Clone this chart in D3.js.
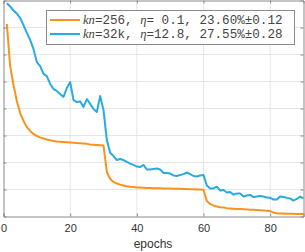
<!DOCTYPE html>
<html>
<body style="margin:0;background:#fff">
<script src="https://d3js.org/d3.v7.min.js"></script>
<style>
  body { margin: 0; }
  .grid line { stroke: #e6e6e6; }
  .axis text { font-family: "Liberation Sans", Arial, sans-serif; font-size: 11px; fill: #333; }
</style>
<script>
// epochs 1..90
const epochs = d3.range(1, 91);

// kn=256, eta=0.1
const smallBatch = [
  91.3, 75.7, 68.7, 62.8, 58.3, 55.4, 53.1, 51.7, 50.6, 49.8,
  49.3, 48.9, 48.5, 48.2, 48.0, 47.8, 47.7, 47.6, 47.5, 47.4,
  47.3, 47.2, 47.1, 47.0, 46.9, 46.7, 46.6, 46.5, 46.4, 46.3,
  36.5, 33.9, 32.8, 32.2, 31.8, 31.5, 31.2, 31.0, 30.9, 30.7,
  30.7, 30.67, 30.6, 30.6, 30.5, 30.5, 30.5, 30.4, 30.4, 30.4,
  30.3, 30.3, 30.3, 30.2, 30.2, 30.1, 30.1, 30.0, 30.0, 29.9,
  25.7, 24.6, 24.1, 23.7, 23.4, 23.3, 23.1, 23.0, 22.9, 22.8,
  22.8, 22.7, 22.6, 22.5, 22.5, 22.4, 22.3, 22.2, 22.1, 22.0,
  21.5, 21.2, 21.1, 21.1, 21.0, 21.0, 21.0, 20.9, 20.9, 20.9
];

// kn=32k, eta=12.8
const largeBatch = [
  99.0, 97.8, 96.3, 95.2, 93.5, 90.9, 88.0, 85.4, 82.0, 77.2,
  75.7, 72.8, 72.0, 69.1, 67.2, 66.5, 65.4, 64.3, 67.6, 69.8,
  63.1, 62.4, 62.6, 60.6, 63.5, 61.7, 59.8, 58.7, 64.6, 59.4,
  48.3, 43.6, 42.4, 40.9, 41.3, 40.9, 40.2, 39.6, 39.1, 38.5,
  38.3, 39.1, 37.4, 37.4, 37.6, 37.8, 37.4, 36.1, 36.1, 35.9,
  35.2, 35.0, 35.4, 35.7, 36.3, 35.7, 35.0, 34.8, 35.2, 35.4,
  31.5, 30.4, 30.4, 31.1, 29.6, 29.8, 28.9, 29.1, 28.1, 28.5,
  28.5, 27.4, 27.8, 28.0, 27.2, 27.4, 27.6, 27.4, 27.0, 26.9,
  26.3, 26.3, 27.4, 27.2, 26.9, 26.7, 25.9, 26.5, 27.4, 26.7
];

const xTicks = [0, 20, 40, 60, 80];
const yTicks = [30, 40, 50, 60, 70, 80, 90];

const series = [
  { name: "256", eta: " 0.1", acc: "23.60%\u00b10.12", values: smallBatch, color: "#f7941d" },
  { name: "32k", eta: "12.8", acc: "27.55%\u00b10.28", values: largeBatch, color: "#29abe2" }
];

const width = 305, height = 252;
const x = d3.scaleLinear().domain([0, 90]).range([3.5, 303.5]);
const y = d3.scaleLinear().domain([20, 100]).range([216.5, 0.5]);

const svg = d3.select("body").append("svg")
  .attr("width", width)
  .attr("height", height);

// grid
const grid = svg.append("g").attr("class", "grid");
grid.selectAll(".gx").data(xTicks.slice(1)).enter().append("line")
  .attr("x1", d => x(d)).attr("x2", d => x(d))
  .attr("y1", y(100)).attr("y2", y(20));
grid.selectAll(".gy").data(yTicks).enter().append("line")
  .attr("x1", x(0)).attr("x2", x(90))
  .attr("y1", d => y(d)).attr("y2", d => y(d));

// lines
const line = d3.line()
  .x((d, i) => x(epochs[i]))
  .y(d => y(d));

series.forEach(s => {
  svg.append("path")
    .datum(s.values)
    .attr("fill", "none")
    .attr("stroke", s.color)
    .attr("stroke-width", 2)
    .attr("stroke-linejoin", "round")
    .attr("d", line);
});

// axes, box style with inward ticks
svg.append("g").attr("class", "axis")
  .attr("transform", `translate(0,${y(20)})`)
  .call(d3.axisBottom(x).tickValues(xTicks).tickSize(-3).tickPadding(8));
svg.append("g").attr("class", "axis")
  .attr("transform", `translate(0,${y(100)})`)
  .call(d3.axisTop(x).tickValues(xTicks).tickSize(-3).tickFormat(""));
svg.append("g").attr("class", "axis")
  .attr("transform", `translate(${x(0)},0)`)
  .call(d3.axisLeft(y).tickValues(yTicks).tickSize(-3).tickFormat(""));
svg.append("g").attr("class", "axis")
  .attr("transform", `translate(${x(90)},0)`)
  .call(d3.axisRight(y).tickValues(yTicks).tickSize(-3).tickFormat(""));

svg.selectAll(".axis .domain").attr("stroke", "#8a8a8a");
svg.selectAll(".axis .tick line").attr("stroke", "#8a8a8a");

svg.append("text")
  .attr("x", 153)
  .attr("y", 248)
  .attr("text-anchor", "middle")
  .style("font-family", "Liberation Sans, Arial, sans-serif")
  .style("font-size", "12px")
  .style("fill", "#333")
  .text("epochs");

// legend
const legend = svg.append("g");
legend.append("rect")
  .attr("x", 46.5).attr("y", 10.5)
  .attr("width", 248).attr("height", 34)
  .attr("fill", "#fff")
  .attr("stroke", "#8a8a8a");

series.forEach((s, i) => {
  const ly = 20 + i * 14;
  legend.append("line")
    .attr("x1", 50).attr("x2", 80)
    .attr("y1", ly).attr("y2", ly)
    .attr("stroke", s.color)
    .attr("stroke-width", 2);
  const t = legend.append("text")
    .attr("x", 83).attr("y", ly + 4)
    .style("font-family", "Liberation Mono, Courier New, monospace")
    .style("font-size", "12.6px")
    .style("fill", "#444");
  t.append("tspan").style("font-family", "Liberation Serif, serif").style("font-style", "italic").text("kn");
  t.append("tspan").text("=" + s.name + ", ");
  t.append("tspan").style("font-family", "Liberation Serif, serif").style("font-style", "italic").text("\u03b7");
  t.append("tspan").text("=" + s.eta + ", " + s.acc);
});
</script>
</body>
</html>
